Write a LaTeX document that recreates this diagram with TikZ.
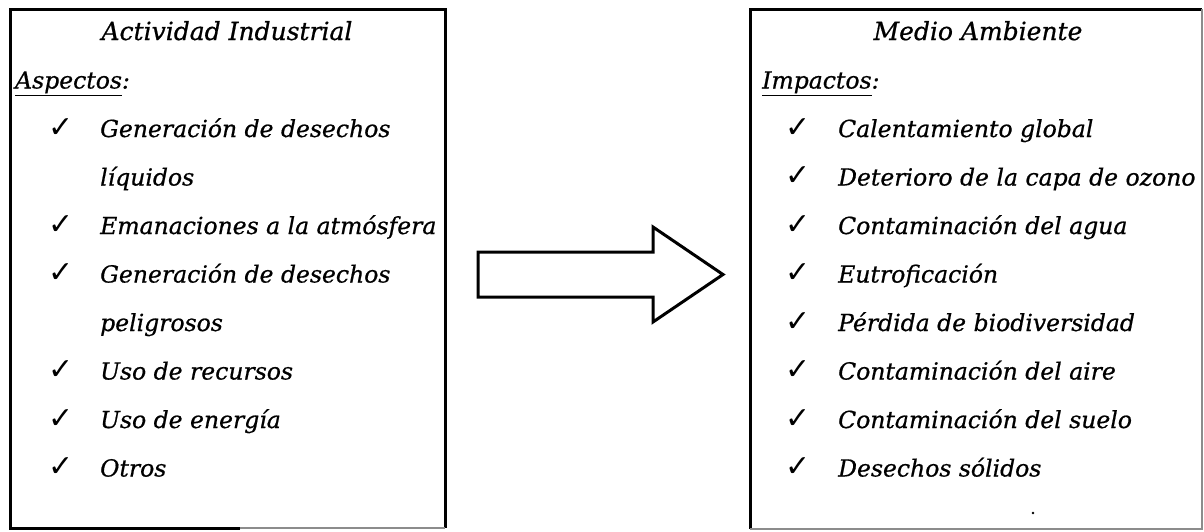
\documentclass[tikz,border=0pt]{standalone}
\usepackage{fontspec}
\setmainfont{DejaVu Serif}[FakeBold=0.7]
\newfontfamily\checkfont{DejaVu Sans}
\begin{document}
\begin{tikzpicture}[x=1pt,y=-1pt,
  frame/.style={draw=black,line width=3pt},
  edge/.style={draw=black!45,line width=1.2pt},
  heading/.style={font=\itshape\fontsize{25}{28}\selectfont,anchor=base,inner sep=0pt},
  label/.style={font=\itshape\fontsize{23.5}{27}\selectfont,anchor=base west,inner sep=0pt},
  tick/.style={font=\checkfont\fontsize{30}{32}\selectfont,anchor=base west,inner sep=0pt},
  blockarrow/.style={draw=black,line width=3pt,line join=miter,fill=white},
]
\useasboundingbox (0,0) rectangle (1204,531);

% left frame: industrial activity
\coordinate (L1) at (10,9);
\coordinate (L2) at (445,528);
\coordinate (Lb) at (240,528);
\draw[frame] (Lb) -- (L1|-L2) -- (L1) -- (L2|-L1) -- (L2);
\draw[edge] (Lb) -- (L2);

% right frame: environment (cut off at the right and bottom)
\coordinate (R1) at (750,9);
\coordinate (R2) at (1202,529);
\draw[frame] (R1|-R2) -- (R1) -- (R2|-R1);
\draw[edge] (R2|-R1) -- (R2) -- (R1|-R2);

% left column
\node[heading] (lt) at (227,40) {Actividad Industrial};
\node[label] (lh) at (15,88.5) {\underline{Aspectos}:};
\node[tick] (lc1) at (48,137) {✓};
\node[label] (li1) at (100,137) {Generación de desechos};
\node[label] (li1b) at (100,185.5) {líquidos};
\node[tick] (lc2) at (48,234) {✓};
\node[label] (li2) at (100,234) {Emanaciones a la atmósfera};
\node[tick] (lc3) at (48,282.5) {✓};
\node[label] (li3) at (100,282.5) {Generación de desechos};
\node[label] (li3b) at (100,331) {peligrosos};
\node[tick] (lc4) at (48,379.5) {✓};
\node[label] (li4) at (100,379.5) {Uso de recursos};
\node[tick] (lc5) at (48,428) {✓};
\node[label] (li5) at (100,428) {Uso de energía};
\node[tick] (lc6) at (48,476.5) {✓};
\node[label] (li6) at (100,476.5) {Otros};

% right column
\node[heading] (rt) at (978,40) {Medio Ambiente};
\node[label] (rh) at (762,88.5) {\underline{Impactos}:};
\foreach \t [count=\i] in {
    Calentamiento global,
    Deterioro de la capa de ozono,
    Contaminación del agua,
    Eutroficación,
    Pérdida de biodiversidad,
    Contaminación del aire,
    Contaminación del suelo,
    Desechos sólidos} {
  \pgfmathsetmacro{\yy}{137+48.5*(\i-1)}
  \node[tick] (rc\i) at (785,\yy) {✓};
  \node[label] (ri\i) at (838,\yy) {\t};
}

% block arrow between the frames
\coordinate (a1) at (478,252);
\coordinate (a2) at (653,252);
\coordinate (a3) at (653,227);
\coordinate (tip) at (723,274.5);
\coordinate (a4) at (653,322);
\coordinate (a5) at (653,297);
\coordinate (a6) at (478,297);
\draw[blockarrow] (a1) -- (a2) -- (a3) -- (tip) -- (a4) -- (a5) -- (a6) -- cycle;

% speck inside the right frame
\fill (1033,513) circle (1.3);
\end{tikzpicture}
\end{document}
